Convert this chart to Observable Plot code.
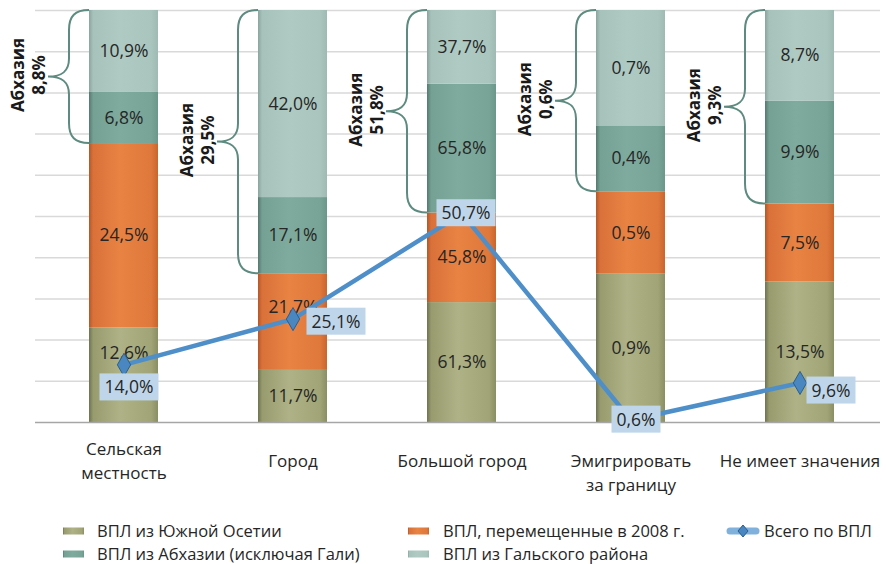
<!DOCTYPE html>
<html><head><meta charset="utf-8">
<script src="https://cdn.jsdelivr.net/npm/d3@7"></script>
<script src="https://cdn.jsdelivr.net/npm/@observablehq/plot@0.6"></script>
<style>
body{margin:0;background:#fff;font-family:"Open Sans",sans-serif;}
#wrap{position:relative;width:886px;height:564px;overflow:hidden}
#chart svg{display:block}
.lg{position:absolute;font-size:16.5px;color:#262626;line-height:1;white-space:nowrap;transform:translateY(-50%)}
.sw{position:absolute;width:21px;height:7px;transform:translateY(-50%)}
</style></head><body><div id="wrap"><div id="chart"></div><div id="legend"></div></div>
<script>
// ---- data ----
const categories = ["Сельская местность", "Город", "Большой город", "Эмигрировать за границу", "Не имеет значения"];
const tickLabels = ["Сельская\nместность", "Город", "Большой город", "Эмигрировать\nза границу", "Не имеет значения"];
const seriesNames = ["ВПЛ из Южной Осетии", "ВПЛ, перемещенные в 2008 г.", "ВПЛ из Абхазии (исключая Гали)", "ВПЛ из Гальского района"];
const southOssetia   = [12.6, 11.7, 61.3, 0.9, 13.5];
const displaced2008  = [24.5, 21.7, 45.8, 0.5, 7.5];
const abkhaziaExGali = [6.8, 17.1, 65.8, 0.4, 9.9];
const galiDistrict   = [10.9, 42.0, 37.7, 0.7, 8.7];
const abkhaziaName = "Абхазия";
const abkhaziaTotal  = [8.8, 29.5, 51.8, 0.6, 9.3];
const lineName = "Всего по ВПЛ";
const totalIDP       = [14.0, 25.1, 50.7, 0.6, 9.6];
const gridTicks = [0.1, 0.2, 0.3, 0.4, 0.5, 0.6, 0.7, 0.8, 0.9, 1.0];

// ---- styling / layout ----
const gradIds = ["gSO", "gDis", "gAbk", "gGali"];
const gradStops = [
  [[0,"#6f7350"],[0.06,"#979b6e"],[0.45,"#aeb286"],[0.9,"#a0a476"],[1,"#8a8e63"]],
  [[0,"#b65726"],[0.06,"#d9713a"],[0.45,"#e88343"],[0.9,"#df783b"],[1,"#c9662e"]],
  [[0,"#55796e"],[0.06,"#74a193"],[0.45,"#7eab9d"],[0.9,"#78a497"],[1,"#6b968a"]],
  [[0,"#8aa59e"],[0.06,"#a6c2bb"],[0.45,"#afcac3"],[0.9,"#aac5be"],[1,"#9fbab3"]]
];
const segShift = {"0|0": -22, "1|1": -15};
const lineLabelOffset = [[5, 23], [43, 3], [4, 0], [5, 0], [31, 8]];
const fmt = v => v.toFixed(1).replace(".", ",") + "%";

const seriesValues = [southOssetia, displaced2008, abkhaziaExGali, galiDistrict];
const rows = [];
seriesValues.forEach((vals, s) => vals.forEach((v, i) =>
  rows.push({cat: categories[i], ci: i, series: seriesNames[s], si: s, value: v})));
const lineData = categories.map((c, i) => ({cat: c, ci: i, v: totalIDP[i] / 100, label: fmt(totalIDP[i])}));
const braceData = categories.map((c, i) => {
  const sum = seriesValues.reduce((a, s) => a + s[i], 0);
  const low = (southOssetia[i] + displaced2008[i]) / sum;
  return {cat: c, low, high: 1, mid: (1 + low) / 2, label: abkhaziaName + "\n" + fmt(abkhaziaTotal[i])};
});
const tickData = categories.map((c, i) => ({cat: c, ci: i, label: tickLabels[i]}));

const H = 505;
const stackOpts = {x: "cat", y: "value", z: "series", offset: "normalize"};
const segText = {fontSize: 17.5, fill: "#262626", lineAnchor: "middle"};

const marks = [
  Plot.ruleY(gridTicks, {stroke: "#d9d9d9", strokeWidth: 1.5, insetLeft: -2, insetRight: 6}),
  Plot.barY(rows, Plot.stackY({...stackOpts, fill: "series"})),
  Plot.ruleY([0], {stroke: "#a6a6a6", strokeWidth: 1.5, insetLeft: -2, insetRight: 6}),
  Plot.text(rows, Plot.stackY({...stackOpts, ...segText, text: d => segShift[d.ci + "|" + d.si] ? "" : fmt(d.value)}))
];
Object.entries(segShift).forEach(([k, dy]) => {
  marks.push(Plot.text(rows, Plot.stackY({...stackOpts, ...segText, dy, text: d => (d.ci + "|" + d.si) === k ? fmt(d.value) : ""})));
});
marks.push(
  Plot.text(braceData, {x: "cat", y: "mid", text: "label", rotate: -90, dx: -96, dy: -2, fontSize: 17, fontWeight: "bold", fill: "#1a1a1a", lineHeight: 1.22, lineAnchor: "middle"}),
  Plot.text(tickData.filter(d => d.ci === 0), {x: "cat", y: () => 0, text: "label", fontSize: 17, fill: "#262626", lineAnchor: "top", lineHeight: 1.38, dy: 16}),
  Plot.text(tickData.filter(d => d.ci !== 0), {x: "cat", y: () => 0, text: "label", fontSize: 17, fill: "#262626", lineAnchor: "top", lineHeight: 1.38, dy: 28}),
  Plot.line(lineData, {x: "cat", y: "v", stroke: "#4f8fc9", strokeWidth: 4.5}),
  Plot.dot(lineData, {x: "cat", y: "v", symbol: "diamond", r: 7, fill: "#4a86c0", stroke: "#2b5f8e", strokeWidth: 1})
);
lineData.forEach((d, i) => {
  marks.push(Plot.text([d], {x: "cat", y: "v", text: "label", fontSize: 17.5, fill: "#262626", lineAnchor: "middle",
    dx: lineLabelOffset[i][0], dy: lineLabelOffset[i][1]}));
});

const plot = Plot.plot({
  width: 886, height: H,
  marginTop: 10, marginBottom: H - 422, marginLeft: 37, marginRight: 0,
  style: {fontFamily: "'Open Sans', sans-serif", background: "white", overflow: "visible"},
  x: {domain: categories, paddingInner: 0.59, paddingOuter: 0.295, axis: null},
  y: {domain: [0, 1], axis: null},
  color: {domain: seriesNames, range: gradIds.map(id => `url(#${id})`)},
  marks
});
document.getElementById("chart").appendChild(plot);

// gradients
const defs = d3.create("svg:defs");
gradIds.forEach((id, k) => {
  const g = defs.append("linearGradient").attr("id", id).attr("x1", 0).attr("x2", 1).attr("y1", 0).attr("y2", 0);
  gradStops[k].forEach(([o, c]) => g.append("stop").attr("offset", o).attr("stop-color", c));
});
plot.insertBefore(defs.node(), plot.firstChild);

// braces drawn with the plot's own scales
const sx = plot.scale("x"), sy = plot.scale("y");
const xs = typeof sx.apply === "function" ? v => sx.apply(v) :
  d3.scaleBand(sx.domain, sx.range).paddingInner(sx.paddingInner).paddingOuter(sx.paddingOuter).align(sx.align ?? 0.5);
const ys = typeof sy.apply === "function" ? v => sy.apply(v) : d3.scaleLinear(sy.domain, sy.range);
const braceG = d3.create("svg:g").attr("fill", "none").attr("stroke", "#5d8b7f").attr("stroke-width", 2);
braceData.forEach(d => {
  const xL = xs(d.cat), yT = ys(d.high), yB = ys(d.low), yM = (yT + yB) / 2;
  const p = d3.path();
  p.moveTo(xL, yT);
  p.bezierCurveTo(xL - 14, yT, xL - 20, yT + 6, xL - 20, yT + 20);
  p.lineTo(xL - 20, yM - 18);
  p.bezierCurveTo(xL - 20, yM - 5, xL - 27, yM, xL - 41, yM);
  p.bezierCurveTo(xL - 27, yM, xL - 20, yM + 5, xL - 20, yM + 18);
  p.lineTo(xL - 20, yB - 20);
  p.bezierCurveTo(xL - 20, yB - 6, xL - 14, yB, xL, yB);
  braceG.append("path").attr("d", p.toString());
});
const lineG = plot.querySelector('g[aria-label="line"]');
if (lineG) plot.insertBefore(braceG.node(), lineG); else plot.appendChild(braceG.node());

// label boxes behind the line labels (the last five text marks)
const textGroups = Array.from(plot.querySelectorAll('g[aria-label="text"]'));
textGroups.slice(-lineData.length).forEach(g => {
  g.querySelectorAll("text").forEach(t => {
    const b = t.getBBox();
    const r = document.createElementNS("http://www.w3.org/2000/svg", "rect");
    r.setAttribute("x", b.x - 5); r.setAttribute("y", b.y - 1);
    r.setAttribute("width", b.width + 10); r.setAttribute("height", b.height + 3);
    r.setAttribute("fill", "#bfd6ea");
    if (t.getAttribute("transform")) r.setAttribute("transform", t.getAttribute("transform"));
    t.parentNode.insertBefore(r, t);
  });
});

// legend
const legend = document.getElementById("legend");
const sw = k => `linear-gradient(90deg, ${gradStops[k].map(([o, c]) => `${c} ${o * 100}%`).join(",")})`;
const items = [
  {k: 0, x: 63, tx: 97, y: 531},
  {k: 2, x: 63, tx: 97, y: 554},
  {k: 1, x: 408, tx: 443, y: 531},
  {k: 3, x: 408, tx: 443, y: 554}
];
items.forEach(it => {
  legend.insertAdjacentHTML("beforeend",
    `<div class="sw" style="left:${it.x}px;top:${it.y}px;background:${sw(it.k)}"></div>` +
    `<div class="lg" style="left:${it.tx}px;top:${it.y}px">${seriesNames[it.k]}</div>`);
});
legend.insertAdjacentHTML("beforeend",
  `<svg style="position:absolute;left:726px;top:522px" width="34" height="18">
     <line x1="4" y1="9" x2="30" y2="9" stroke="#7fb1dc" stroke-width="7" stroke-linecap="round"/>
     <path d="M17,3 L22,9 L17,15 L12,9 Z" fill="#4a86c0" stroke="#2b5f8e" stroke-width="1"/>
   </svg>` +
  `<div class="lg" style="left:764px;top:531px">${lineName}</div>`);
</script></body></html>
